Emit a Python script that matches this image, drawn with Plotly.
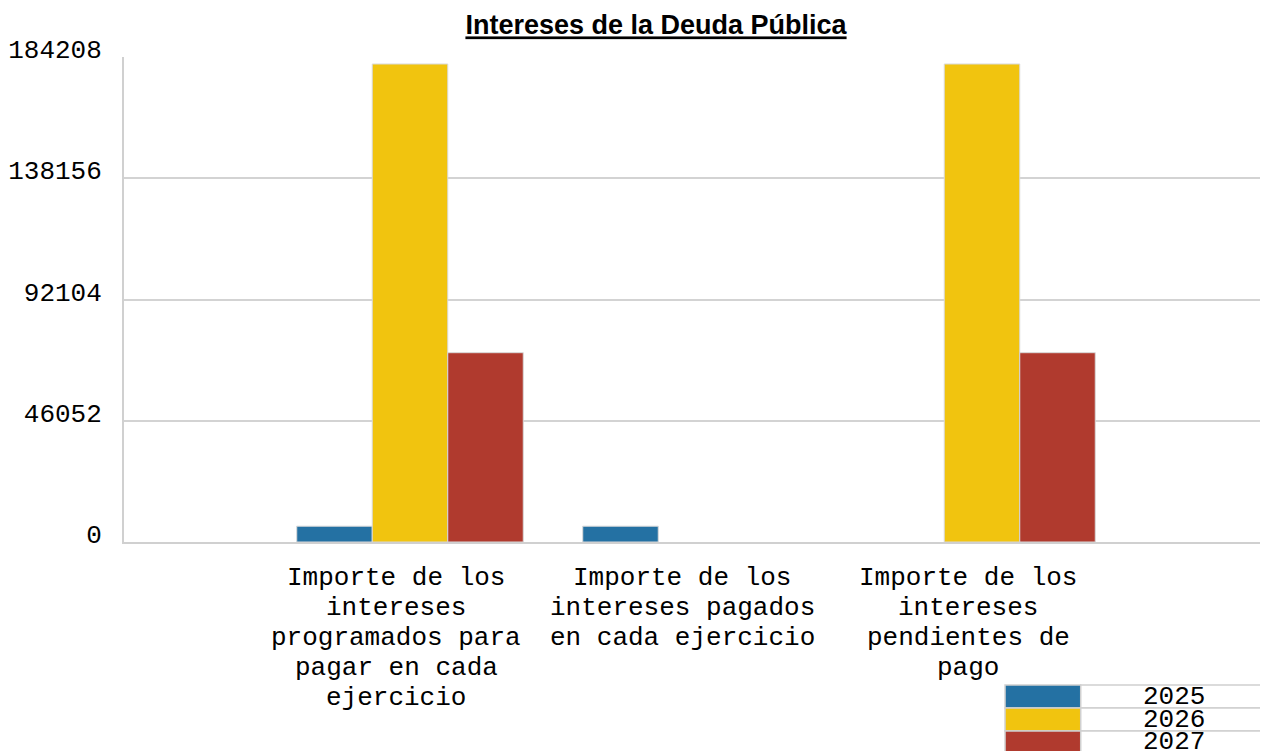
import plotly.graph_objects as go

# ---- data ----
categories = [
    "Importe de los intereses programados para pagar en cada ejercicio",
    "Importe de los intereses pagados en cada ejercicio",
    "Importe de los intereses pendientes de pago",
]
tick_lines = [
    ["Importe de los", "intereses", "programados para", "pagar en cada", "ejercicio"],
    ["Importe de los", "intereses pagados", "en cada ejercicio"],
    ["Importe de los", "intereses", "pendientes de", "pago"],
]
series_names = ["2025", "2026", "2027"]
values_2025 = [6000, 6000, 0]
values_2026 = [181550, 0, 181550]
values_2027 = [71900, 0, 71900]
y_ticks = [0, 46052, 92104, 138156, 184208]
colors = ["#2471A3", "#F1C40F", "#B03A2E"]

# the page body adds an 8px margin; figure is sized so the plot lands where the reference has it
BODY = 8
W, H = 1268 - BODY, 751 - BODY
PL, PT, PR, PB = 119.5, 57, 1268, 542        # plot area in page pixels
ML, MT, MR, MB = PL - BODY, PT - BODY, 1268 - PR, 751 - PB
MONO = "Liberation Mono, Courier New, monospace"

fig = go.Figure()
for name, vals, col in zip(series_names, [values_2025, values_2026, values_2027], colors):
    fig.add_trace(go.Bar(
        x=categories, y=vals, name=name,
        marker=dict(color=col,
                    line=dict(color="#d9d9d9", width=[1 if v else 0 for v in vals])),
        showlegend=False,
    ))

pw = PR - PL
ph = PB - PT
def px_x(p):
    return (p - PL) / pw
def px_y(p):
    return (PB - p) / ph

shapes = []
annotations = []

# category labels, one line per annotation (reference uses tighter line spacing)
for cat, lines in zip(categories, tick_lines):
    for j, line in enumerate(lines):
        annotations.append(dict(xref="x", yref="paper", x=cat, y=0,
                                text=line, showarrow=False, xanchor="center", yanchor="middle",
                                xshift=-14, yshift=-(36 + 30 * j),
                                font=dict(family=MONO, size=26, color="#000")))

# table-like legend at the bottom right
row_top = 685
row_h = 23
for i, (name, col) in enumerate(zip(series_names, colors)):
    y0 = row_top + i * row_h
    y1 = y0 + row_h
    shapes.append(dict(type="rect", xref="paper", yref="paper",
                       x0=px_x(1004), x1=px_x(1080), y0=px_y(y1), y1=px_y(y0),
                       fillcolor=col, line=dict(color="#d0d0d0", width=1.5)))
    shapes.append(dict(type="rect", xref="paper", yref="paper",
                       x0=px_x(1080), x1=px_x(1272), y0=px_y(y1), y1=px_y(y0),
                       fillcolor="white", line=dict(color="#d0d0d0", width=1.5)))
    annotations.append(dict(xref="paper", yref="paper", x=px_x(1174), y=px_y((y0 + y1) / 2),
                            text=name, showarrow=False, xanchor="center", yanchor="middle",
                            font=dict(family=MONO, size=26, color="#000")))

fig.update_layout(
    width=W, height=H,
    margin=dict(l=ML, r=MR, t=MT, b=MB, pad=0),
    paper_bgcolor="white", plot_bgcolor="white",
    barmode="group", bargap=0.208, bargroupgap=0,
    title=dict(text="<b>Intereses de la Deuda Pública</b>",
               x=(656 - BODY) / W, xref="container", xanchor="center",
               y=1 - (25 - BODY) / H, yref="container", yanchor="middle",
               font=dict(family="Liberation Sans, Arial, sans-serif", size=27, color="#000",
                         lineposition="under")),
    xaxis=dict(range=[-1, 3], showticklabels=False,
               showgrid=False, showline=True, linecolor="#d0d0d0", linewidth=2,
               ticks="", fixedrange=True),
    yaxis=dict(range=[0, 184208], tickmode="array", tickvals=y_ticks,
               ticktext=[str(v) for v in y_ticks],
               showgrid=True, gridcolor="#d3d3d3", gridwidth=1.5,
               showline=True, linecolor="#d0d0d0", linewidth=2, zeroline=False,
               ticks="", tickfont=dict(family=MONO, size=26, color="#000"),
               ticklabelshift=-8, ticklabelstandoff=15, fixedrange=True),
    shapes=shapes, annotations=annotations,
    showlegend=False,
)

fig.write_html("out.html")
